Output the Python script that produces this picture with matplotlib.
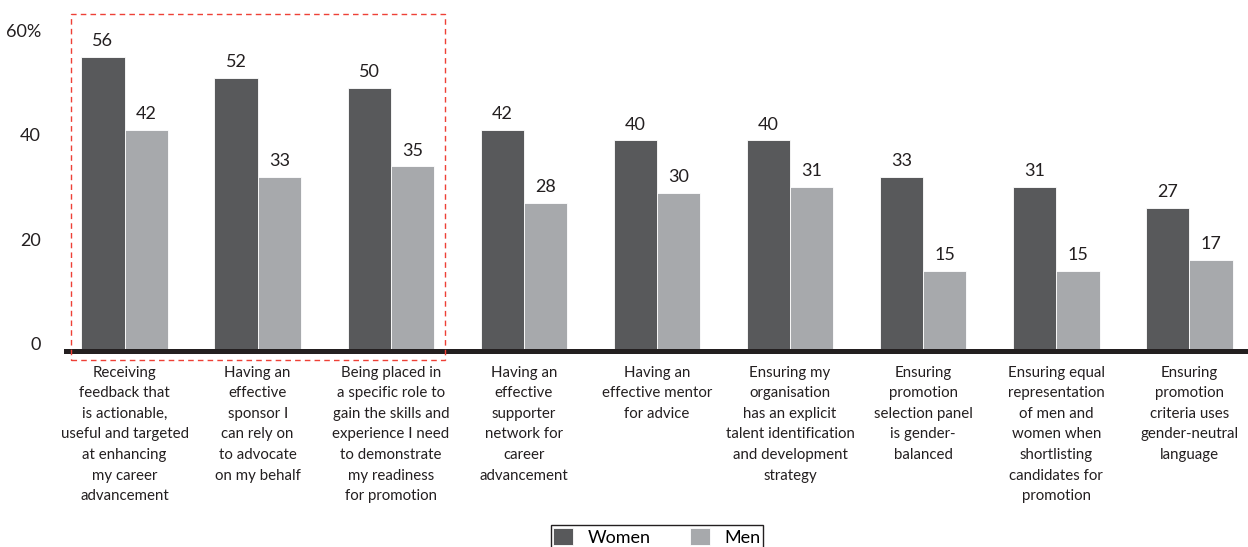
import numpy as np
import matplotlib
matplotlib.use("Agg")
from matplotlib import pyplot as plt
from matplotlib.patches import Rectangle
from matplotlib.transforms import ScaledTranslation

# Data
categories = [
    "Receiving\nfeedback that\nis actionable,\nuseful and targeted\nat enhancing\nmy career\nadvancement",
    "Having an\neffective\nsponsor I\ncan rely on\nto advocate\non my behalf",
    "Being placed in\na specific role to\ngain the skills and\nexperience I need\nto demonstrate\nmy readiness\nfor promotion",
    "Having an\neffective\nsupporter\nnetwork for\ncareer\nadvancement",
    "Having an\neffective mentor\nfor advice",
    "Ensuring my\norganisation\nhas an explicit\ntalent identification\nand development\nstrategy",
    "Ensuring\npromotion\nselection panel\nis gender-\nbalanced",
    "Ensuring equal\nrepresentation\nof men and\nwomen when\nshortlisting\ncandidates for\npromotion",
    "Ensuring\npromotion\ncriteria uses\ngender-neutral\nlanguage",
]
women = [56, 52, 50, 42, 40, 40, 33, 31, 27]
men = [42, 33, 35, 28, 30, 31, 15, 15, 17]
yticks = [0, 20, 40, 60]
ytick_labels = ["0", "20", "40", "60%"]

dark = "#58595b"
light = "#a7a9ac"
ink = "#231f20"

plt.rcParams["font.family"] = ["Lato", "DejaVu Sans"]

fig = plt.figure(figsize=(12.48, 5.47), dpi=100)
ax = fig.add_axes([66 / 1248, 1 - 349 / 547, 1 - 66 / 1248, (349 - 36) / 547])

x = np.arange(len(categories))
w = 0.325
b1 = ax.bar(x - w / 2, women, w, color=dark, edgecolor="white", lw=0.6, label="Women", zorder=2)
b2 = ax.bar(x + w / 2, men, w, color=light, edgecolor="white", lw=0.6, label="Men", zorder=2)

for bars, vals in [(b1, women), (b2, men)]:
    for r, v in zip(bars, vals):
        ax.text(r.get_x() + r.get_width() / 2, v + 1.5, str(v),
                ha="center", va="bottom", fontsize=13, color=ink)

ax.set_xlim(-0.44, 8.44)
ax.set_ylim(0, 60)
ax.axhline(-0.35, color=ink, lw=3.6, zorder=3, clip_on=False)

ax.set_yticks(yticks)
ax.set_yticklabels(ytick_labels, fontsize=13, color=ink, va="center")
ax.tick_params(axis="y", length=0, pad=18)
shift = ScaledTranslation(0, 0.04, fig.dpi_scale_trans)
for lab in ax.get_yticklabels():
    lab.set_transform(lab.get_transform() + shift)

ax.set_xticks(x)
ax.set_xticklabels(categories, fontsize=10.8, color=ink, linespacing=1.6, va="top")
ax.tick_params(axis="x", length=0, pad=12)
for s in ax.spines.values():
    s.set_visible(False)

# dashed highlight box round the first three groups
box = Rectangle((-0.406, -2.1), 2.816, 66.3, fill=False, ls=(0, (4, 3)),
                edgecolor="#ee4036", lw=1, clip_on=False, zorder=4)
ax.add_patch(box)

fig.legend(handles=[b1, b2], loc="upper center", bbox_to_anchor=(657 / 1248, 1 - 516 / 547),
           ncol=2, frameon=True, fancybox=False, edgecolor=ink, fontsize=13,
           handlelength=1.1, handleheight=1.1, columnspacing=2.2, borderpad=0.15,
           framealpha=1)

plt.savefig("out.png", dpi=100)
plt.close()
